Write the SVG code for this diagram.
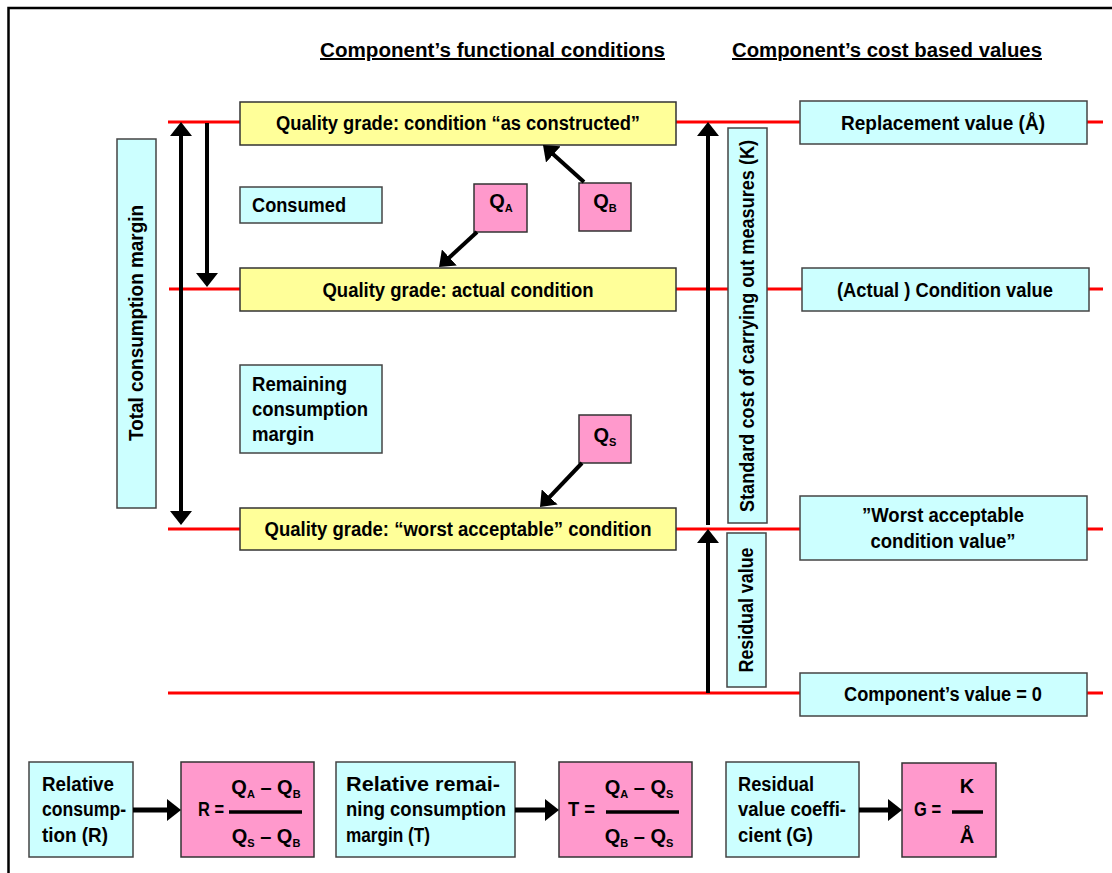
<svg xmlns="http://www.w3.org/2000/svg" width="1112" height="873" viewBox="0 0 1112 873">
<style>
.t{font-family:"Liberation Sans",Arial,sans-serif;font-weight:bold;font-size:20px;fill:#000}
.h{font-size:20px;text-decoration:underline}
.c{text-anchor:middle}
.sub{font-size:11px}
.y{fill:#FFFF99;stroke:#333;stroke-width:1.5}
.b{fill:#CCFFFF;stroke:#444;stroke-width:1.5}
.p{fill:#FF99CC;stroke:#333;stroke-width:1.5}
.red{stroke:#FF0000;stroke-width:3;fill:none}
.ar{stroke:#000;stroke-width:4;fill:none}
.ar5{stroke:#000;stroke-width:5;fill:none}
.fl{stroke:#000;stroke-width:3.5}
</style>
<defs>
<marker id="ah" markerUnits="userSpaceOnUse" markerWidth="14" markerHeight="22" viewBox="0 0 14 22" refX="4" refY="11" orient="auto-start-reverse">
<path d="M0,0 L14,11 L0,22 z" fill="#000"/>
</marker>
</defs>
<rect width="1112" height="873" fill="#fff"/>
<path d="M8.5,873 V8 H1112" fill="none" stroke="#000" stroke-width="2.5"/>

<g id="headers">
<text class="t h" x="320" y="57" textLength="345" lengthAdjust="spacingAndGlyphs">Component’s functional conditions</text>
<text class="t h" x="732" y="57" textLength="310" lengthAdjust="spacingAndGlyphs">Component’s cost based values</text>
</g>

<g id="levels">
<line class="red" x1="168" y1="122" x2="1103" y2="122"/>
<line class="red" x1="169" y1="289" x2="1103" y2="289"/>
<line class="red" x1="168" y1="529" x2="1103" y2="529"/>
<line class="red" x1="168" y1="693" x2="1103" y2="693"/>
</g>

<g id="grade-constructed">
<rect class="y" x="240" y="102" width="436" height="43"/>
<text class="t c" x="458" y="130" textLength="364" lengthAdjust="spacingAndGlyphs">Quality grade: condition “as constructed”</text>
</g>
<g id="grade-actual">
<rect class="y" x="240" y="268" width="436" height="43"/>
<text class="t c" x="458" y="297" textLength="271" lengthAdjust="spacingAndGlyphs">Quality grade: actual condition</text>
</g>
<g id="grade-worst">
<rect class="y" x="240" y="508" width="436" height="42"/>
<text class="t c" x="458" y="536" textLength="387" lengthAdjust="spacingAndGlyphs">Quality grade: “worst acceptable” condition</text>
</g>

<g id="consumed">
<rect class="b" x="240" y="187" width="142" height="36"/>
<text class="t" x="252" y="212" textLength="94" lengthAdjust="spacingAndGlyphs">Consumed</text>
</g>
<g id="remaining">
<rect class="b" x="240" y="365" width="142" height="88"/>
<text class="t" x="252" y="391" textLength="95" lengthAdjust="spacingAndGlyphs">Remaining</text>
<text class="t" x="252" y="416" textLength="116" lengthAdjust="spacingAndGlyphs">consumption</text>
<text class="t" x="252" y="441" textLength="62" lengthAdjust="spacingAndGlyphs">margin</text>
</g>
<g id="total-margin">
<rect class="b" x="117" y="139" width="39" height="369"/>
<text class="t c" transform="translate(143,323) rotate(-90)" textLength="236" lengthAdjust="spacingAndGlyphs">Total  consumption  margin</text>
</g>

<g id="qa">
<rect class="p" x="474" y="184" width="53" height="48"/>
<text class="t c" x="501" y="208">Q<tspan class="sub" dy="4">A</tspan></text>
</g>
<g id="qb">
<rect class="p" x="579" y="183" width="52" height="48"/>
<text class="t c" x="605" y="208">Q<tspan class="sub" dy="4">B</tspan></text>
</g>
<g id="qs">
<rect class="p" x="579" y="415" width="52" height="48"/>
<text class="t c" x="605" y="442">Q<tspan class="sub" dy="4">S</tspan></text>
</g>

<g id="cost-k">
<rect class="b" x="728" y="128" width="39" height="395"/>
<text class="t c" transform="translate(754,326) rotate(-90)" textLength="372" lengthAdjust="spacingAndGlyphs">Standard cost of carrying out measures (K)</text>
</g>
<g id="residual">
<rect class="b" x="727" y="533" width="39" height="154"/>
<text class="t c" transform="translate(753,610) rotate(-90)" textLength="125" lengthAdjust="spacingAndGlyphs">Residual value</text>
</g>

<g id="replacement">
<rect class="b" x="800" y="101" width="287" height="43"/>
<text class="t c" x="943" y="130" textLength="204" lengthAdjust="spacingAndGlyphs">Replacement value (Å)</text>
</g>
<g id="condition-value">
<rect class="b" x="802" y="268" width="287" height="43"/>
<text class="t c" x="945" y="297" textLength="216" lengthAdjust="spacingAndGlyphs">(Actual ) Condition value</text>
</g>
<g id="worst-value">
<rect class="b" x="800" y="496" width="287" height="64"/>
<text class="t c" x="943" y="522" textLength="162" lengthAdjust="spacingAndGlyphs">”Worst acceptable</text>
<text class="t c" x="943" y="548" textLength="145" lengthAdjust="spacingAndGlyphs">condition value”</text>
</g>
<g id="zero-value">
<rect class="b" x="800" y="673" width="287" height="43"/>
<text class="t c" x="943" y="701" textLength="198" lengthAdjust="spacingAndGlyphs">Component’s value = 0</text>
</g>

<g id="rel-consumption">
<rect class="b" x="29" y="762" width="104" height="95"/>
<text class="t" x="42" y="791" textLength="72" lengthAdjust="spacingAndGlyphs">Relative</text>
<text class="t" x="42" y="816" textLength="84" lengthAdjust="spacingAndGlyphs">consump-</text>
<text class="t" x="42" y="842" textLength="66" lengthAdjust="spacingAndGlyphs">tion (R)</text>
</g>
<g id="formula-r">
<rect class="p" x="181" y="762" width="133" height="95"/>
<text class="t" x="198" y="816" textLength="26" lengthAdjust="spacingAndGlyphs">R =</text>
<line class="fl" x1="229" y1="812" x2="302" y2="812"/>
<text class="t c" x="266" y="794" font-size="17">Q<tspan class="sub" dy="4">A</tspan><tspan dy="-4"> – Q</tspan><tspan class="sub" dy="4">B</tspan></text>
<text class="t c" x="266" y="843" font-size="17">Q<tspan class="sub" dy="4">S</tspan><tspan dy="-4"> – Q</tspan><tspan class="sub" dy="4">B</tspan></text>
</g>
<g id="rel-remaining">
<rect class="b" x="336" y="762" width="179" height="95"/>
<text class="t" x="346" y="791" textLength="154" lengthAdjust="spacingAndGlyphs">Relative remai-</text>
<text class="t" x="346" y="816" textLength="160" lengthAdjust="spacingAndGlyphs">ning consumption</text>
<text class="t" x="346" y="842" textLength="84" lengthAdjust="spacingAndGlyphs">margin (T)</text>
</g>
<g id="formula-t">
<rect class="p" x="559" y="762" width="133" height="95"/>
<text class="t" x="568" y="816" textLength="27" lengthAdjust="spacingAndGlyphs">T =</text>
<line class="fl" x1="606" y1="812" x2="679" y2="812"/>
<text class="t c" x="639" y="794" font-size="17">Q<tspan class="sub" dy="4">A</tspan><tspan dy="-4"> – Q</tspan><tspan class="sub" dy="4">S</tspan></text>
<text class="t c" x="639" y="843" font-size="17">Q<tspan class="sub" dy="4">B</tspan><tspan dy="-4"> – Q</tspan><tspan class="sub" dy="4">S</tspan></text>
</g>
<g id="rel-residual">
<rect class="b" x="726" y="762" width="133" height="95"/>
<text class="t" x="738" y="791" textLength="76" lengthAdjust="spacingAndGlyphs">Residual</text>
<text class="t" x="738" y="816" textLength="108" lengthAdjust="spacingAndGlyphs">value coeffi-</text>
<text class="t" x="738" y="842" textLength="75" lengthAdjust="spacingAndGlyphs">cient (G)</text>
</g>
<g id="formula-g">
<rect class="p" x="902" y="763" width="94" height="94"/>
<text class="t" x="914" y="816" textLength="27" lengthAdjust="spacingAndGlyphs">G =</text>
<line class="fl" x1="952" y1="812" x2="983" y2="812"/>
<text class="t c" x="967" y="793">K</text>
<text class="t c" x="967" y="843">Å</text>
</g>

<g id="connectors">
<line class="ar" x1="181" y1="132" x2="181" y2="515" marker-start="url(#ah)" marker-end="url(#ah)"/>
<line class="ar" x1="207" y1="123" x2="207" y2="277" marker-end="url(#ah)"/>
<line class="ar" x1="708" y1="525" x2="708" y2="132" marker-end="url(#ah)"/>
<line class="ar" x1="708" y1="693" x2="708" y2="539" marker-end="url(#ah)"/>
<line class="ar" x1="584" y1="182" x2="550.4" y2="151.7" marker-end="url(#ah)"/>
<line class="ar" x1="477" y1="232" x2="446.4" y2="260.2" marker-end="url(#ah)"/>
<line class="ar" x1="582" y1="463" x2="546.9" y2="499.8" marker-end="url(#ah)"/>
<line class="ar5" x1="133" y1="810" x2="171" y2="810" marker-end="url(#ah)"/>
<line class="ar5" x1="515" y1="810" x2="549" y2="810" marker-end="url(#ah)"/>
<line class="ar5" x1="859" y1="810" x2="892" y2="810" marker-end="url(#ah)"/>
</g>
</svg>
